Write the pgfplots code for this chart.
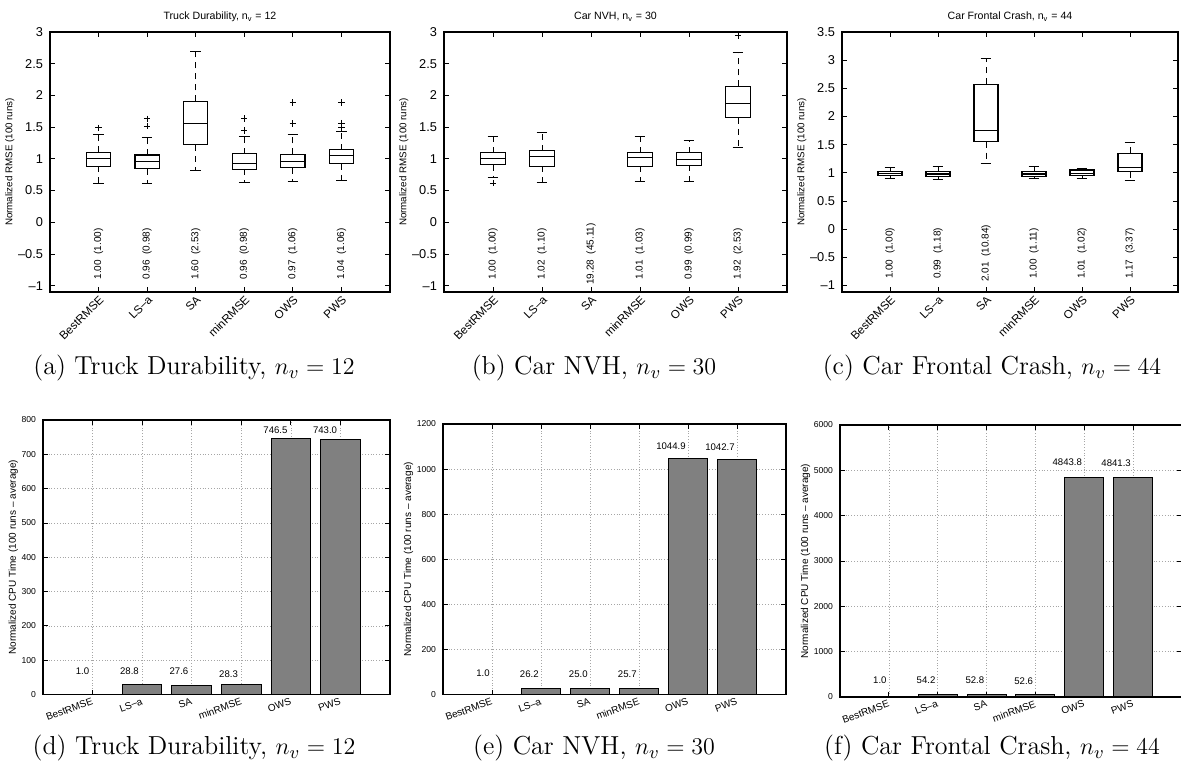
\documentclass[border=0pt]{standalone}
\usepackage{fontspec}
\usepackage{pgfplots}
\pgfplotsset{compat=1.18}
\usepgfplotslibrary{statistics}
\newfontfamily\plotfont{Liberation Sans}
\definecolor{bargray}{gray}{0.5}
\newcommand{\fsz}[1]{\plotfont\fontsize{#1}{#1}\selectfont}

\pgfplotsset{
  matlab/.style={
    scale only axis, anchor=north west,
    axis line style={line width=0.7pt},
    every tick/.style={black, line width=0.4pt},
    major tick length=2.5pt,
    tick align=inside,
    xmin=0, xmax=7, xtick={1,...,6},
    xticklabels={BestRMSE,LS–a,SA,minRMSE,OWS,PWS},
    /pgf/number format/assume math mode=true,
    /pgf/number format/1000 sep={},
    scaled y ticks=false,
  },
  rmse/.style={matlab,
    height=130pt, ymin=-1.1,
    ylabel={Normalized RMSE (100 runs)},
    ylabel style={font=\fsz{4.9}},
    ylabel shift=-5pt,
    title style={font=\fsz{5.3}, yshift=-4.5pt},
    yticklabel style={font=\fsz{6.4}},
    xticklabel style={font=\fsz{5.8}, rotate=45, anchor=north east, inner sep=0.8pt},
    boxplot/draw direction=y,
    boxplot/box extend=0.5,
    boxplot/whisker extend=0.22,
    boxplot/every box/.style={draw=black, line width=0.55pt},
    boxplot/every median/.style={draw=black, line width=0.6pt},
    boxplot/draw/lower whisker/.code={%
      \draw[black, line width=0.5pt, dash pattern=on 3pt off 2.5pt]
        (boxplot box cs:\pgfplotsboxplotvalue{lower quartile},0.5)
        -- (boxplot box cs:\pgfplotsboxplotvalue{lower whisker},0.5);
      \draw[black, line width=0.5pt]
        (boxplot whisker cs:\pgfplotsboxplotvalue{lower whisker},0)
        -- (boxplot whisker cs:\pgfplotsboxplotvalue{lower whisker},1);
    },
    boxplot/draw/upper whisker/.code={%
      \draw[black, line width=0.5pt, dash pattern=on 3pt off 2.5pt]
        (boxplot box cs:\pgfplotsboxplotvalue{upper quartile},0.5)
        -- (boxplot box cs:\pgfplotsboxplotvalue{upper whisker},0.5);
      \draw[black, line width=0.5pt]
        (boxplot whisker cs:\pgfplotsboxplotvalue{upper whisker},0)
        -- (boxplot whisker cs:\pgfplotsboxplotvalue{upper whisker},1);
    },
  },
  cpu/.style={matlab,
    grid=major, major grid style={densely dotted, gray!70, line width=0.3pt},
    ymin=0,
    ylabel={Normalized CPU Time (100 runs – average)},
    ylabel style={font=\fsz{5}},
    ylabel shift=-5pt,
    yticklabel style={font=\fsz{4.3}},
    xticklabel style={font=\fsz{5}, rotate=20, anchor=north east, inner sep=1pt},
  },
  bar/.style={ybar, bar width=0.8, fill=bargray, draw=black, line width=0.5pt},
  lbl/.style={only marks, mark=none, nodes near coords, point meta=explicit symbolic,
    every node near coord/.append style={font=\fsz{4.8}, anchor=east, inner sep=0pt}},
  ann/.style={only marks, mark=none, nodes near coords, point meta=explicit symbolic,
    every node near coord/.append style={font=\fsz{5}, rotate=90, anchor=center, inner sep=0pt}},
  outl/.style={black, mark=+, mark size=1.6pt, mark options={line width=0.5pt}},
}

% position, lower whisker, lower quartile, median, upper quartile, upper whisker, outliers
\newcommand{\bx}[7]{\addplot[boxplot prepared={draw position=#1, lower whisker=#2,
  lower quartile=#3, median=#4, upper quartile=#5, upper whisker=#6}, outl] coordinates {#7};}

\begin{document}
\begin{tikzpicture}
\useasboundingbox (0,0) rectangle (590.5pt,-385.5pt);

% (a)
\begin{axis}[rmse, at={(25pt,-16pt)}, width=170pt, ymax=3,
  ytick={-1,-0.5,0,0.5,1,1.5,2,2.5,3},
  yticklabels={–1,–0.5,0,0.5,1,1.5,2,2.5,3},
  title={Truck Durability, n\textsubscript{v} = 12}]
\bx{1}{0.616}{0.884}{1.0}{1.105}{1.39}{(0,1.49)}
\bx{2}{0.616}{0.842}{0.958}{1.06}{1.33}{(0,1.516) (0,1.63)}
\bx{3}{0.816}{1.221}{1.563}{1.905}{2.695}{}
\bx{4}{0.632}{0.832}{0.932}{1.079}{1.354}{(0,1.447) (0,1.633)}
\bx{5}{0.647}{0.858}{0.953}{1.07}{1.379}{(0,1.554) (0,1.887)}
\bx{6}{0.663}{0.921}{1.053}{1.142}{1.437}{(0,1.49) (0,1.564) (0,1.887)}
\addplot[ann] coordinates {(1,-0.5) [1.00\ \ (1.00)] (2,-0.5) [0.96\ \ (0.98)]
  (3,-0.5) [1.60\ \ (2.53)] (4,-0.5) [0.96\ \ (0.98)] (5,-0.5) [0.97\ \ (1.06)]
  (6,-0.5) [1.04\ \ (1.06)]};
\end{axis}

% (b)
\begin{axis}[rmse, at={(222pt,-16pt)}, width=171.5pt, ymax=3,
  ytick={-1,-0.5,0,0.5,1,1.5,2,2.5,3},
  yticklabels={–1,–0.5,0,0.5,1,1.5,2,2.5,3},
  title={Car NVH, n\textsubscript{v} = 30}]
\bx{1}{0.71}{0.91}{1.0}{1.095}{1.358}{(0,0.616)}
\bx{2}{0.621}{0.884}{1.042}{1.13}{1.42}{}
\bx{4}{0.647}{0.884}{1.016}{1.095}{1.358}{}
\bx{5}{0.647}{0.9}{0.984}{1.095}{1.29}{}
\bx{6}{1.184}{1.647}{1.868}{2.142}{2.684}{(0,2.947)}
\addplot[ann] coordinates {(1,-0.5) [1.00\ \ (1.00)] (2,-0.5) [1.02\ \ (1.10)]
  (3,-0.5) [19.28\ \ (45.11)] (4,-0.5) [1.01\ \ (1.03)] (5,-0.5) [0.99\ \ (0.99)]
  (6,-0.5) [1.92\ \ (2.53)]};
\end{axis}

% (c)
\begin{axis}[rmse, at={(421pt,-16pt)}, width=168pt, ymin=-1.115, ymax=3.5,
  ytick={-1,-0.5,0,0.5,1,1.5,2,2.5,3,3.5},
  yticklabels={–1,–0.5,0,0.5,1,1.5,2,2.5,3,3.5},
  title={Car Frontal Crash, n\textsubscript{v} = 44}]
\bx{1}{0.90}{0.96}{0.99}{1.02}{1.09}{}
\bx{2}{0.884}{0.943}{0.98}{1.02}{1.12}{}
\bx{3}{1.168}{1.554}{1.756}{2.574}{3.037}{}
\bx{4}{0.90}{0.943}{0.98}{1.02}{1.12}{}
\bx{5}{0.90}{0.95}{0.99}{1.05}{1.07}{}
\bx{6}{0.866}{1.02}{1.097}{1.346}{1.54}{}
\addplot[ann] coordinates {(1,-0.43) [1.00\ \ (1.00)] (2,-0.43) [0.99\ \ (1.18)]
  (3,-0.43) [2.01\ \ (10.84)] (4,-0.43) [1.00\ \ (1.11)] (5,-0.43) [1.01\ \ (1.02)]
  (6,-0.43) [1.17\ \ (3.37)]};
\end{axis}

% (d)
\begin{axis}[cpu, at={(21.5pt,-210pt)}, width=173.5pt, height=137.25pt,
  ymax=800, ytick={0,100,...,800}]
\addplot[bar] coordinates {(1,1.0) (2,28.8) (3,27.6) (4,28.3) (5,746.5) (6,743.0)};
\addplot[lbl] coordinates {(0.94,68) [1.0] (1.94,68) [28.8] (2.94,68) [27.6]
  (3.94,60) [28.3] (4.94,771) [746.5] (5.94,769) [743.0]};
\end{axis}

% (e)
\begin{axis}[cpu, at={(221.5pt,-212pt)}, width=171.5pt, height=135.3pt,
  ymax=1200, ytick={0,200,...,1200}]
\addplot[bar] coordinates {(1,1.0) (2,26.2) (3,25.0) (4,25.7) (5,1044.9) (6,1042.7)};
\addplot[lbl] coordinates {(0.96,94) [1.0] (1.96,91) [26.2] (2.96,91) [25.0]
  (3.96,91) [25.7] (4.96,1100) [1044.9] (5.96,1097) [1042.7]};
\end{axis}

% (f)
\begin{axis}[cpu, at={(420pt,-212.5pt)}, width=171pt, height=136pt,
  ymax=6000, ytick={0,1000,...,6000}]
\addplot[bar] coordinates {(1,1.0) (2,54.2) (3,52.8) (4,52.6) (5,4843.8) (6,4841.3)};
\addplot[lbl] coordinates {(0.96,377) [1.0] (1.96,377) [54.2] (2.96,377) [52.8]
  (3.96,340) [52.6] (4.96,5180) [4843.8] (5.96,5160) [4841.3]};
\end{axis}

% sub-captions
\begin{scope}[every node/.style={font=\fontsize{13}{15}\selectfont}]
\node at (97pt,-184pt) {(a) Truck Durability, $n_v = 12$};
\node at (297pt,-184pt) {(b) Car NVH, $n_v = 30$};
\node at (496pt,-184pt) {(c) Car Frontal Crash, $n_v = 44$};
\node at (97pt,-374pt) {(d) Truck Durability, $n_v = 12$};
\node at (297pt,-374pt) {(e) Car NVH, $n_v = 30$};
\node at (496pt,-374pt) {(f) Car Frontal Crash, $n_v = 44$};
\end{scope}
\end{tikzpicture}
\end{document}
